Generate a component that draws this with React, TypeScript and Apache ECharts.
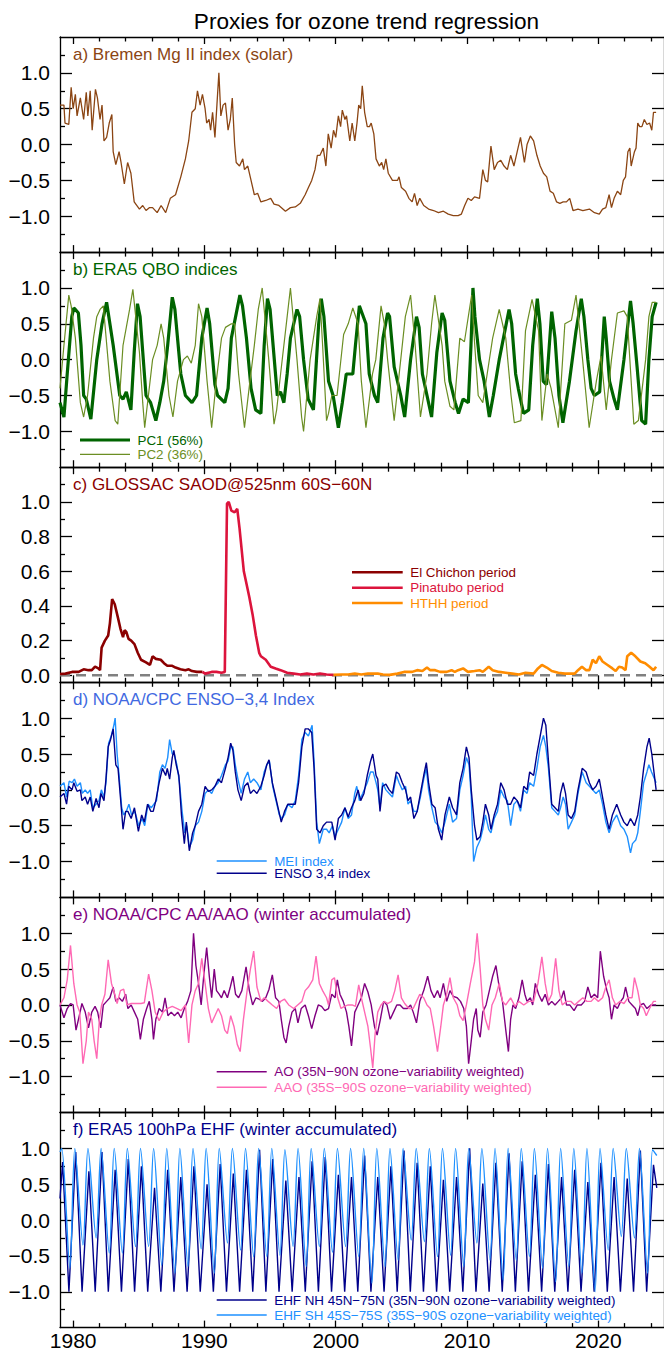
import React, { useEffect, useRef } from 'react';
import * as echarts from 'echarts';

// ---------------- axis ticks / labels ----------------
const decadeTicks = [1980, 1990, 2000, 2010, 2020];
const biennialTicks = [1982, 1984, 1986, 1988, 1992, 1994, 1996, 1998, 2002, 2004, 2006, 2008, 2012, 2014, 2016, 2018, 2022, 2024];
const indexMajorTicks = [-1, -0.5, 0, 0.5, 1];
const indexMinorTicks = [-1.25, -0.75, -0.25, 0.25, 0.75, 1.25];
const aodMajorTicks = [0, 0.2, 0.4, 0.6, 0.8, 1.0];
const aodMinorTicks = [0.1, 0.3, 0.5, 0.7, 0.9, 1.1];

// ---------------- a) solar Mg II ----------------
const solarMgII = [[1979.0,0.55],[1979.3,0.55],[1979.38,0.3],[1979.67,0.28],[1979.85,0.8],[1980.0,0.5],[1980.17,0.7],[1980.3,0.4],[1980.55,0.65],[1980.8,0.35],[1981.0,0.73],[1981.12,0.4],[1981.3,0.75],[1981.45,0.2],[1981.7,0.77],[1981.85,0.65],[1982.05,0.35],[1982.2,0.55],[1982.35,0.05],[1982.55,0.1],[1982.75,0.3],[1982.95,0.42],[1983.05,-0.1],[1983.25,-0.28],[1983.5,-0.1],[1983.65,-0.25],[1983.9,-0.55],[1984.15,-0.25],[1984.4,-0.4],[1984.65,-0.8],[1985.05,-0.9],[1985.3,-0.85],[1985.55,-0.92],[1985.8,-0.88],[1986.05,-0.88],[1986.4,-0.95],[1986.7,-0.85],[1987.05,-0.95],[1987.4,-0.75],[1987.8,-0.7],[1988.2,-0.45],[1988.55,-0.2],[1988.8,0.05],[1989.05,0.45],[1989.3,0.5],[1989.47,0.75],[1989.67,0.55],[1989.85,0.7],[1990.05,0.5],[1990.17,0.3],[1990.35,0.35],[1990.47,0.2],[1990.62,0.45],[1990.8,0.1],[1990.95,0.55],[1991.1,1.0],[1991.25,0.4],[1991.42,0.55],[1991.6,0.58],[1991.8,0.2],[1991.97,0.35],[1992.12,0.65],[1992.3,0.0],[1992.42,-0.25],[1992.67,-0.3],[1992.92,-0.2],[1993.05,-0.35],[1993.3,-0.3],[1993.55,-0.5],[1993.8,-0.7],[1994.05,-0.68],[1994.3,-0.8],[1994.67,-0.78],[1995.05,-0.75],[1995.3,-0.83],[1995.67,-0.85],[1996.17,-0.93],[1996.55,-0.88],[1996.92,-0.87],[1997.3,-0.82],[1997.67,-0.7],[1997.92,-0.6],[1998.17,-0.5],[1998.42,-0.35],[1998.6,-0.15],[1998.8,-0.15],[1999.05,-0.05],[1999.25,-0.3],[1999.43,0.15],[1999.65,-0.05],[1999.83,0.2],[2000.0,0.1],[2000.2,0.4],[2000.37,0.25],[2000.5,0.48],[2000.7,0.35],[2000.82,0.4],[2001.07,0.05],[2001.25,0.3],[2001.45,0.05],[2001.62,0.3],[2001.75,0.55],[2001.9,0.5],[2002.02,0.82],[2002.2,0.45],[2002.4,0.25],[2002.57,0.25],[2002.7,0.3],[2002.9,0.15],[2003.07,-0.2],[2003.32,-0.3],[2003.5,-0.25],[2003.65,-0.35],[2003.82,-0.2],[2004.0,-0.4],[2004.32,-0.5],[2004.7,-0.5],[2004.82,-0.45],[2005.0,-0.6],[2005.32,-0.65],[2005.57,-0.75],[2005.82,-0.8],[2006.0,-0.68],[2006.2,-0.85],[2006.4,-0.75],[2006.7,-0.85],[2007.07,-0.9],[2007.45,-0.92],[2007.82,-0.95],[2008.2,-0.93],[2008.57,-0.97],[2008.95,-0.99],[2009.32,-0.99],[2009.57,-0.97],[2009.82,-0.85],[2010.07,-0.75],[2010.32,-0.78],[2010.57,-0.73],[2010.95,-0.75],[2011.2,-0.35],[2011.4,-0.5],[2011.57,-0.52],[2011.82,-0.02],[2012.07,-0.35],[2012.32,-0.25],[2012.57,-0.22],[2012.82,-0.3],[2013.07,-0.35],[2013.32,-0.15],[2013.57,-0.3],[2013.82,-0.1],[2014.07,0.1],[2014.37,-0.25],[2014.57,0.0],[2014.82,0.12],[2015.07,0.05],[2015.32,-0.15],[2015.57,-0.3],[2015.82,-0.4],[2016.07,-0.45],[2016.32,-0.65],[2016.57,-0.68],[2016.82,-0.8],[2017.07,-0.82],[2017.32,-0.8],[2017.57,-0.8],[2017.82,-0.75],[2018.07,-0.92],[2018.45,-0.9],[2018.82,-0.92],[2019.32,-0.9],[2019.7,-0.95],[2020.07,-0.97],[2020.32,-0.9],[2020.57,-0.88],[2020.82,-0.7],[2021.0,-0.88],[2021.2,-0.75],[2021.45,-0.65],[2021.7,-0.7],[2021.9,-0.5],[2022.07,-0.45],[2022.25,-0.1],[2022.4,-0.05],[2022.5,-0.3],[2022.75,-0.1],[2022.87,-0.05],[2023.0,0.3],[2023.15,0.25],[2023.32,0.25],[2023.5,0.35],[2023.7,0.28],[2023.9,0.3],[2024.07,0.2],[2024.2,0.45],[2024.4,0.45]];

// ---------------- b) QBO ----------------
const qboPC1 = [[1979.0,-0.6],[1979.3,-0.8],[1979.55,-0.2],[1979.9,0.6],[1980.05,0.72],[1980.17,0.7],[1980.4,0.65],[1980.6,0.2],[1980.8,-0.5],[1981.0,-0.55],[1981.35,-0.83],[1981.8,0.0],[1982.2,0.5],[1982.55,0.8],[1983.05,0.2],[1983.55,-0.5],[1983.8,-0.55],[1984.05,-0.45],[1984.4,-0.7],[1984.65,0.1],[1984.9,0.78],[1985.1,0.6],[1985.55,-0.5],[1985.9,-0.6],[1986.3,-0.85],[1986.6,-0.6],[1986.9,-0.3],[1987.2,0.2],[1987.55,0.87],[1987.75,0.7],[1988.2,-0.2],[1988.55,-0.5],[1989.05,-0.6],[1989.4,-0.5],[1989.8,0.3],[1990.2,0.72],[1990.4,0.5],[1990.8,-0.35],[1991.0,-0.5],[1991.55,-0.6],[1991.8,-0.4],[1992.05,0.3],[1992.7,0.9],[1992.9,0.75],[1993.2,0.3],[1993.55,-0.4],[1993.9,-0.7],[1994.3,-0.75],[1994.55,0.2],[1994.8,0.85],[1995.0,0.7],[1995.55,-0.5],[1995.8,-0.45],[1996.05,-0.6],[1996.3,-0.2],[1996.55,0.3],[1997.05,0.7],[1997.25,0.6],[1997.55,0.0],[1997.9,-0.55],[1998.3,-0.7],[1998.7,0.5],[1998.9,0.85],[1999.1,0.6],[1999.45,-0.3],[1999.8,-0.5],[2000.2,-0.95],[2000.5,-0.6],[2000.8,-0.2],[2001.3,-0.2],[2001.5,0.2],[2001.8,0.75],[2002.0,0.65],[2002.3,0.5],[2002.55,-0.2],[2002.95,-0.5],[2003.2,-0.6],[2003.6,0.3],[2003.95,0.65],[2004.1,0.6],[2004.45,-0.1],[2004.95,-0.5],[2005.25,-0.8],[2005.7,0.0],[2006.15,0.6],[2006.35,0.45],[2006.6,-0.2],[2006.95,-0.5],[2007.3,-0.8],[2007.7,0.1],[2008.1,0.65],[2008.3,0.55],[2008.7,-0.3],[2009.1,-0.6],[2009.35,-0.75],[2009.7,-0.55],[2010.1,-0.6],[2010.3,0.2],[2010.45,1.0],[2010.6,0.6],[2010.95,0.0],[2011.3,-0.3],[2011.7,-0.8],[2012.0,-0.5],[2012.45,0.0],[2013.2,0.7],[2013.4,0.5],[2013.7,-0.2],[2013.9,-0.4],[2014.3,-0.75],[2014.7,-0.7],[2015.0,0.2],[2015.35,0.85],[2015.55,0.5],[2015.8,-0.3],[2016.05,-0.35],[2016.45,0.67],[2016.7,0.3],[2017.0,-0.5],[2017.3,-0.88],[2017.8,-0.3],[2018.3,0.4],[2018.7,0.85],[2018.9,0.6],[2019.2,0.0],[2019.45,-0.4],[2019.7,-0.5],[2020.1,-0.45],[2020.45,0.6],[2020.6,0.3],[2020.85,-0.3],[2021.2,-0.55],[2021.45,-0.7],[2021.95,0.0],[2022.45,0.82],[2022.65,0.5],[2022.95,-0.1],[2023.3,-0.85],[2023.6,-0.9],[2023.85,0.0],[2024.1,0.6],[2024.4,0.8]];
const qboPC2 = [[1979.0,-0.4],[1979.3,0.2],[1979.67,0.9],[1979.85,0.75],[1980.17,0.3],[1980.55,-0.6],[1980.8,-0.8],[1981.1,-0.5],[1981.55,0.3],[1981.8,0.6],[1982.05,0.7],[1982.3,0.75],[1982.8,-0.3],[1983.2,-0.85],[1983.4,-0.9],[1983.8,0.2],[1984.05,0.45],[1984.3,0.7],[1984.55,0.98],[1985.05,0.1],[1985.3,-0.6],[1985.45,-0.95],[1986.05,0.0],[1986.4,0.2],[1986.7,0.5],[1986.9,0.3],[1987.3,-0.5],[1987.6,-0.8],[1987.95,-0.3],[1988.4,0.0],[1988.7,0.05],[1989.0,-0.05],[1989.3,0.2],[1989.55,0.78],[1989.8,0.6],[1990.2,-0.3],[1990.55,-0.95],[1990.9,-0.3],[1991.3,0.3],[1991.6,0.45],[1992.05,0.5],[1992.3,0.5],[1992.6,-0.2],[1993.05,-0.95],[1993.4,-0.4],[1993.8,0.2],[1994.1,0.7],[1994.4,1.0],[1994.6,0.6],[1994.9,0.0],[1995.3,-0.9],[1995.5,-0.7],[1995.8,-0.2],[1996.3,0.6],[1996.55,1.0],[1996.8,0.5],[1997.05,0.0],[1997.4,-0.8],[1997.55,-1.0],[1998.05,0.0],[1998.55,0.6],[1998.8,0.85],[1999.0,0.2],[1999.3,-0.85],[1999.45,-0.75],[1999.7,-0.5],[2000.1,-0.5],[2000.6,0.35],[2000.95,0.5],[2001.3,0.72],[2001.7,0.5],[2001.95,-0.3],[2002.3,-0.95],[2002.8,-0.2],[2003.05,0.0],[2003.45,0.75],[2003.7,0.5],[2003.95,0.0],[2004.45,-0.85],[2004.95,0.0],[2005.3,0.6],[2005.7,0.9],[2006.05,0.2],[2006.45,-0.8],[2006.95,-0.2],[2007.3,0.5],[2007.55,0.9],[2008.1,0.2],[2008.3,-0.3],[2008.7,-0.65],[2009.0,-0.7],[2009.45,0.3],[2009.8,0.25],[2010.35,0.9],[2010.55,0.3],[2010.85,-0.5],[2011.2,-0.6],[2011.45,-0.3],[2011.95,0.3],[2012.45,0.7],[2012.95,0.3],[2013.35,-0.5],[2013.6,-0.88],[2014.1,-0.85],[2014.45,0.4],[2014.95,0.84],[2015.45,0.4],[2015.7,-0.85],[2016.1,-0.2],[2016.4,-0.4],[2016.7,-0.7],[2016.95,-0.95],[2017.45,0.5],[2017.95,0.55],[2018.3,0.9],[2018.8,0.0],[2019.3,-0.95],[2019.85,-0.3],[2020.2,0.05],[2020.6,-0.7],[2021.0,0.0],[2021.45,0.65],[2021.95,0.68],[2022.2,0.6],[2022.7,-0.9],[2023.05,-0.85],[2023.6,0.0],[2023.85,0.6],[2024.1,0.8],[2024.4,0.8]];

// ---------------- c) GLOSSAC SAOD ----------------
const saodElChichon = [[1979.0,0.008],[1979.42,0.01],[1979.92,0.02],[1980.42,0.02],[1980.8,0.035],[1981.17,0.03],[1981.42,0.03],[1981.67,0.05],[1981.92,0.04],[1982.05,0.03],[1982.17,0.16],[1982.42,0.2],[1982.67,0.23],[1982.8,0.3],[1982.97,0.44],[1983.17,0.41],[1983.42,0.33],[1983.6,0.27],[1983.8,0.22],[1983.92,0.26],[1984.05,0.25],[1984.22,0.21],[1984.42,0.2],[1984.67,0.18],[1984.92,0.13],[1985.17,0.09],[1985.55,0.075],[1985.85,0.06],[1986.05,0.11],[1986.3,0.095],[1986.67,0.09],[1986.92,0.07],[1987.17,0.055],[1987.55,0.055],[1987.8,0.045],[1988.17,0.035],[1988.55,0.03],[1988.8,0.035],[1989.05,0.025],[1989.42,0.02],[1989.85,0.02]];
const saodPinatubo = [[1989.85,0.02],[1990.05,0.01],[1990.55,0.02],[1990.92,0.02],[1991.3,0.015],[1991.55,0.02],[1991.72,0.99],[1991.85,1.0],[1992.05,0.95],[1992.3,0.94],[1992.5,0.96],[1992.67,0.85],[1993.0,0.6],[1993.17,0.54],[1993.42,0.45],[1993.67,0.35],[1993.92,0.23],[1994.17,0.13],[1994.3,0.11],[1994.67,0.09],[1995.05,0.05],[1995.42,0.04],[1995.8,0.03],[1996.3,0.015],[1996.8,0.01],[1997.3,0.005],[1997.8,0.01],[1998.3,0.005],[1998.8,0.01],[1999.3,0.005],[1999.83,0.003]];
const saodHTHH = [[1999.83,0.003],[2000.45,0.005],[2000.95,0.005],[2001.45,0.01],[2001.95,0.005],[2002.45,0.01],[2003.2,0.01],[2003.6,0.005],[2004.1,0.003],[2004.7,0.01],[2005.2,0.02],[2005.82,0.02],[2006.2,0.03],[2006.6,0.025],[2006.95,0.045],[2007.2,0.03],[2007.57,0.03],[2007.95,0.02],[2008.45,0.02],[2008.82,0.03],[2009.07,0.02],[2009.32,0.03],[2009.7,0.04],[2010.07,0.02],[2010.57,0.025],[2010.95,0.03],[2011.2,0.02],[2011.65,0.05],[2011.95,0.03],[2012.45,0.02],[2012.95,0.015],[2013.45,0.01],[2013.95,0.005],[2014.45,0.015],[2015.07,0.01],[2015.4,0.04],[2015.7,0.06],[2016.07,0.045],[2016.45,0.025],[2016.95,0.015],[2017.45,0.01],[2017.95,0.01],[2018.2,0.01],[2018.45,0.03],[2018.75,0.05],[2019.07,0.03],[2019.32,0.03],[2019.57,0.09],[2019.82,0.07],[2020.07,0.11],[2020.32,0.08],[2020.7,0.06],[2021.07,0.04],[2021.32,0.025],[2021.57,0.05],[2021.82,0.045],[2022.07,0.03],[2022.2,0.11],[2022.5,0.13],[2022.82,0.11],[2023.2,0.08],[2023.57,0.07],[2023.9,0.05],[2024.2,0.03],[2024.4,0.05]];
const saodZeroLine = [[1979.0,0],[2025.0,0]];

// ---------------- d) ENSO ----------------
const meiIndex = [[1979.0,0.05],[1979.3,0.1],[1979.5,-0.1],[1979.7,0.12],[1979.92,0.1],[1980.1,0.15],[1980.3,0.05],[1980.55,0.1],[1980.7,-0.05],[1980.92,0.0],[1981.1,-0.05],[1981.3,0.0],[1981.5,-0.25],[1981.75,-0.2],[1981.97,-0.15],[1982.15,0.0],[1982.35,-0.1],[1982.5,0.1],[1982.7,0.65],[1982.9,0.75],[1983.1,0.9],[1983.2,1.0],[1983.35,0.5],[1983.5,0.2],[1983.7,-0.25],[1983.85,-0.35],[1984.05,-0.3],[1984.25,-0.2],[1984.45,-0.35],[1984.7,-0.3],[1985.0,-0.5],[1985.25,-0.4],[1985.45,-0.5],[1985.7,-0.2],[1985.95,-0.25],[1986.15,-0.2],[1986.35,-0.15],[1986.6,0.25],[1986.8,0.35],[1987.0,0.3],[1987.2,0.45],[1987.35,0.7],[1987.55,0.5],[1987.7,0.5],[1987.9,0.35],[1988.1,0.1],[1988.3,-0.3],[1988.5,-0.6],[1988.65,-0.5],[1988.85,-0.8],[1989.1,-0.7],[1989.3,-0.5],[1989.55,-0.45],[1989.8,-0.3],[1990.05,-0.05],[1990.3,0.0],[1990.55,-0.05],[1990.8,0.05],[1991.05,0.1],[1991.3,0.2],[1991.6,0.35],[1991.8,0.4],[1992.0,0.6],[1992.17,0.6],[1992.35,0.35],[1992.55,0.15],[1992.8,-0.05],[1993.05,0.15],[1993.3,0.25],[1993.5,0.1],[1993.75,0.15],[1994.0,0.1],[1994.3,0.0],[1994.55,0.25],[1994.75,0.35],[1994.95,0.4],[1995.2,0.05],[1995.45,-0.15],[1995.7,-0.35],[1995.9,-0.4],[1996.1,-0.35],[1996.35,-0.2],[1996.67,-0.25],[1996.92,-0.15],[1997.17,0.2],[1997.42,0.7],[1997.67,0.8],[1997.92,0.75],[1998.2,0.9],[1998.35,0.4],[1998.55,-0.45],[1998.75,-0.75],[1999.05,-0.55],[1999.3,-0.55],[1999.5,-0.6],[1999.75,-0.5],[1999.95,-0.65],[2000.2,-0.55],[2000.45,-0.45],[2000.7,-0.25],[2000.95,-0.4],[2001.2,-0.35],[2001.45,-0.05],[2001.6,0.05],[2001.8,-0.15],[2002.05,-0.05],[2002.4,0.1],[2002.65,0.25],[2002.85,0.25],[2003.07,0.1],[2003.2,0.0],[2003.37,-0.25],[2003.57,0.1],[2003.82,0.0],[2004.07,-0.05],[2004.32,-0.1],[2004.62,0.2],[2004.82,0.1],[2005.07,0.0],[2005.32,0.05],[2005.5,-0.2],[2005.7,-0.15],[2005.95,-0.3],[2006.2,-0.3],[2006.45,-0.1],[2006.7,0.15],[2006.9,0.3],[2007.07,0.0],[2007.32,-0.25],[2007.57,-0.45],[2007.82,-0.5],[2008.07,-0.6],[2008.32,-0.45],[2008.65,-0.2],[2008.9,-0.45],[2009.2,-0.4],[2009.45,0.0],[2009.7,0.2],[2009.95,0.45],[2010.15,0.35],[2010.32,-0.1],[2010.5,-1.0],[2010.75,-0.8],[2011.0,-0.7],[2011.2,-0.55],[2011.4,-0.35],[2011.65,-0.55],[2011.82,-0.6],[2012.07,-0.4],[2012.32,-0.3],[2012.57,0.0],[2012.82,-0.1],[2013.07,-0.15],[2013.32,-0.5],[2013.57,-0.2],[2013.82,-0.15],[2014.07,-0.3],[2014.32,0.0],[2014.57,-0.05],[2014.77,0.1],[2015.07,0.05],[2015.32,0.3],[2015.57,0.6],[2015.82,0.76],[2016.0,0.6],[2016.2,0.3],[2016.45,-0.25],[2016.7,-0.3],[2016.95,-0.35],[2017.12,-0.25],[2017.32,-0.1],[2017.5,-0.2],[2017.7,-0.55],[2017.95,-0.45],[2018.2,-0.35],[2018.45,-0.05],[2018.77,0.25],[2019.07,0.1],[2019.32,0.05],[2019.57,0.0],[2019.82,-0.05],[2020.07,0.0],[2020.32,-0.2],[2020.57,-0.45],[2020.82,-0.6],[2021.07,-0.45],[2021.4,-0.35],[2021.7,-0.5],[2021.95,-0.55],[2022.2,-0.65],[2022.45,-0.88],[2022.6,-0.75],[2022.85,-0.7],[2023.0,-0.6],[2023.2,-0.3],[2023.45,0.1],[2023.7,0.25],[2023.85,0.35],[2024.05,0.25],[2024.4,0.1]];
const enso34Index = [[1979.0,-0.1],[1979.3,-0.05],[1979.5,-0.2],[1979.67,0.05],[1979.92,0.0],[1980.05,0.1],[1980.3,-0.02],[1980.55,0.0],[1980.67,-0.15],[1980.92,-0.1],[1981.1,-0.2],[1981.3,-0.1],[1981.5,-0.3],[1981.75,-0.12],[1981.97,-0.25],[1982.12,-0.05],[1982.35,-0.15],[1982.5,0.15],[1982.67,0.6],[1982.85,0.7],[1983.05,0.85],[1983.25,0.35],[1983.42,0.3],[1983.6,-0.1],[1983.8,-0.55],[1984.0,-0.3],[1984.17,-0.3],[1984.42,-0.4],[1984.67,-0.25],[1984.97,-0.58],[1985.22,-0.35],[1985.42,-0.45],[1985.67,-0.2],[1985.92,-0.3],[1986.1,-0.3],[1986.3,-0.15],[1986.55,0.1],[1986.8,0.3],[1987.05,0.2],[1987.17,0.3],[1987.35,0.15],[1987.55,0.45],[1987.67,0.55],[1987.85,0.35],[1988.05,0.2],[1988.25,-0.35],[1988.47,-0.75],[1988.62,-0.45],[1988.85,-0.85],[1989.1,-0.6],[1989.3,-0.5],[1989.55,-0.3],[1989.8,-0.2],[1990.05,0.05],[1990.3,-0.02],[1990.55,0.0],[1990.8,0.05],[1991.05,0.15],[1991.3,0.1],[1991.6,0.3],[1991.8,0.45],[1992.0,0.65],[1992.17,0.55],[1992.35,0.25],[1992.55,0.0],[1992.8,-0.15],[1993.05,0.05],[1993.3,0.1],[1993.5,-0.05],[1993.75,0.0],[1994.0,-0.05],[1994.3,0.05],[1994.55,0.2],[1994.75,0.35],[1994.92,0.42],[1995.17,0.1],[1995.42,-0.1],[1995.67,-0.3],[1995.85,-0.45],[1996.1,-0.3],[1996.35,-0.2],[1996.67,-0.2],[1996.92,-0.2],[1997.17,0.1],[1997.42,0.6],[1997.67,0.85],[1997.92,0.85],[1998.17,0.8],[1998.35,0.3],[1998.55,-0.55],[1998.8,-0.6],[1999.05,-0.5],[1999.3,-0.45],[1999.45,-0.45],[1999.7,-0.45],[1999.95,-0.7],[2000.2,-0.4],[2000.45,-0.35],[2000.7,-0.25],[2000.95,-0.38],[2001.2,-0.25],[2001.45,-0.15],[2001.7,0.0],[2001.9,-0.15],[2002.15,-0.05],[2002.4,0.2],[2002.65,0.4],[2002.82,0.5],[2003.07,0.2],[2003.2,0.15],[2003.37,-0.3],[2003.57,0.05],[2003.82,0.08],[2004.07,0.0],[2004.32,-0.05],[2004.62,0.25],[2004.82,0.22],[2005.07,0.1],[2005.32,0.0],[2005.5,-0.15],[2005.7,-0.1],[2005.95,-0.4],[2006.2,-0.3],[2006.45,-0.05],[2006.7,0.2],[2006.9,0.38],[2007.07,0.1],[2007.32,-0.2],[2007.57,-0.25],[2007.82,-0.55],[2008.07,-0.7],[2008.32,-0.35],[2008.65,-0.1],[2008.9,-0.25],[2009.2,-0.35],[2009.45,0.1],[2009.7,0.3],[2009.95,0.6],[2010.15,0.45],[2010.32,0.0],[2010.57,-0.5],[2010.75,-0.7],[2011.0,-0.65],[2011.2,-0.45],[2011.4,-0.2],[2011.65,-0.35],[2011.82,-0.55],[2012.07,-0.35],[2012.32,-0.2],[2012.57,0.1],[2012.82,0.0],[2013.07,-0.2],[2013.32,-0.2],[2013.57,-0.1],[2013.82,-0.15],[2014.07,-0.25],[2014.32,0.05],[2014.57,0.0],[2014.77,0.25],[2015.07,0.2],[2015.32,0.5],[2015.57,0.75],[2015.82,1.0],[2016.0,0.9],[2016.2,0.4],[2016.45,-0.2],[2016.7,-0.25],[2016.95,-0.3],[2017.12,-0.05],[2017.32,0.1],[2017.5,-0.05],[2017.7,-0.35],[2017.95,-0.4],[2018.2,-0.3],[2018.45,0.0],[2018.77,0.3],[2019.07,0.25],[2019.32,0.1],[2019.57,0.0],[2019.82,0.05],[2020.07,0.15],[2020.32,-0.1],[2020.57,-0.35],[2020.82,-0.55],[2021.07,-0.35],[2021.4,-0.2],[2021.7,-0.35],[2021.95,-0.45],[2022.2,-0.5],[2022.45,-0.4],[2022.75,-0.5],[2023.0,-0.35],[2023.2,-0.1],[2023.45,0.3],[2023.7,0.6],[2023.87,0.72],[2024.07,0.5],[2024.4,0.0]];

// ---------------- e) AO / AAO ----------------
const aoIndex = [[1979.0,0.0],[1979.3,-0.18],[1979.55,-0.05],[1979.8,0.02],[1980.0,0.0],[1980.22,-0.35],[1980.47,-0.15],[1980.67,0.02],[1980.92,-0.1],[1981.17,-0.32],[1981.42,-0.1],[1981.67,-0.02],[1981.87,-0.1],[1982.1,-0.32],[1982.3,0.0],[1982.55,0.05],[1982.8,0.1],[1983.05,0.25],[1983.25,0.05],[1983.5,0.1],[1983.75,0.05],[1984.0,0.15],[1984.17,-0.05],[1984.42,0.0],[1984.67,-0.1],[1984.92,-0.2],[1985.12,-0.48],[1985.35,-0.2],[1985.6,-0.05],[1985.8,0.05],[1986.0,-0.2],[1986.12,-0.48],[1986.3,-0.2],[1986.55,-0.05],[1986.8,-0.1],[1987.0,0.1],[1987.22,-0.15],[1987.47,-0.1],[1987.72,-0.15],[1987.97,-0.1],[1988.22,-0.18],[1988.47,-0.05],[1988.72,0.05],[1988.97,0.2],[1989.17,1.0],[1989.35,0.55],[1989.55,0.3],[1989.75,0.0],[1989.97,0.45],[1990.17,0.8],[1990.37,0.4],[1990.55,0.1],[1990.75,0.5],[1990.92,0.2],[1991.12,0.15],[1991.3,0.1],[1991.5,0.2],[1991.75,0.1],[1991.97,0.25],[1992.17,0.4],[1992.37,0.15],[1992.6,0.1],[1992.85,0.2],[1993.17,0.53],[1993.42,0.2],[1993.67,0.0],[1993.92,0.1],[1994.17,0.08],[1994.42,0.05],[1994.67,0.1],[1994.92,0.22],[1995.17,0.42],[1995.42,0.1],[1995.67,0.05],[1995.85,-0.2],[1996.05,-0.45],[1996.22,-0.53],[1996.42,-0.3],[1996.67,-0.1],[1996.92,-0.05],[1997.12,-0.25],[1997.37,-0.05],[1997.67,0.0],[1997.92,-0.15],[1998.17,-0.33],[1998.42,-0.15],[1998.67,0.0],[1998.92,-0.02],[1999.17,-0.08],[1999.45,-0.05],[1999.7,0.15],[1999.95,0.1],[2000.12,0.35],[2000.32,0.15],[2000.57,0.05],[2000.82,-0.1],[2001.0,-0.3],[2001.2,-0.57],[2001.45,-0.1],[2001.7,0.0],[2001.95,0.1],[2002.2,0.3],[2002.45,0.18],[2002.7,0.0],[2002.95,-0.3],[2003.15,-0.42],[2003.4,-0.2],[2003.65,0.05],[2003.9,0.0],[2004.15,-0.2],[2004.4,-0.1],[2004.65,0.0],[2004.9,0.0],[2005.15,-0.05],[2005.45,-0.05],[2005.7,0.0],[2005.9,-0.1],[2006.15,-0.25],[2006.4,0.05],[2006.7,0.2],[2007.0,0.4],[2007.25,0.2],[2007.5,0.1],[2007.75,0.2],[2007.95,0.1],[2008.2,0.3],[2008.45,0.05],[2008.7,0.2],[2008.95,0.12],[2009.25,0.1],[2009.5,0.05],[2009.75,-0.05],[2009.95,-0.3],[2010.12,-0.82],[2010.32,-0.5],[2010.5,-0.2],[2010.7,-0.05],[2010.82,-0.35],[2011.0,-0.45],[2011.2,-0.1],[2011.45,0.0],[2011.7,0.2],[2011.95,0.4],[2012.2,0.55],[2012.45,0.25],[2012.7,0.05],[2012.95,-0.35],[2013.15,-0.65],[2013.32,-0.2],[2013.5,0.0],[2013.7,-0.05],[2013.95,0.1],[2014.2,0.35],[2014.4,0.15],[2014.57,0.05],[2014.82,0.1],[2015.0,0.0],[2015.2,0.3],[2015.45,0.15],[2015.7,0.05],[2015.95,0.15],[2016.2,0.0],[2016.45,0.05],[2016.7,0.0],[2016.95,0.05],[2017.2,0.1],[2017.37,0.2],[2017.57,0.0],[2017.82,0.0],[2018.15,-0.08],[2018.4,0.0],[2018.7,0.0],[2018.95,0.05],[2019.2,0.25],[2019.45,0.1],[2019.7,0.15],[2019.95,0.1],[2020.15,0.75],[2020.4,0.4],[2020.65,0.2],[2020.82,0.1],[2021.0,-0.2],[2021.2,0.0],[2021.45,-0.05],[2021.7,0.05],[2021.9,0.1],[2022.07,0.25],[2022.32,0.05],[2022.57,0.0],[2022.82,-0.05],[2023.0,-0.15],[2023.2,0.0],[2023.45,0.02],[2023.7,-0.05],[2024.0,0.0],[2024.4,0.0]];
const aaoIndex = [[1979.0,0.0],[1979.3,0.1],[1979.55,0.35],[1979.8,0.83],[1980.05,0.3],[1980.3,0.0],[1980.5,-0.1],[1980.75,-0.82],[1981.0,-0.5],[1981.17,-0.1],[1981.42,-0.2],[1981.6,-0.5],[1981.8,-0.75],[1982.0,-0.2],[1982.17,0.0],[1982.42,0.15],[1982.67,0.63],[1982.92,0.3],[1983.17,0.15],[1983.35,0.02],[1983.6,0.2],[1983.85,0.22],[1984.1,0.0],[1984.42,0.02],[1984.8,0.02],[1985.17,0.02],[1985.42,0.03],[1985.75,0.43],[1986.0,0.2],[1986.25,-0.1],[1986.55,-0.22],[1986.85,-0.1],[1987.17,-0.05],[1987.55,-0.02],[1987.92,-0.05],[1988.22,-0.08],[1988.55,0.0],[1988.8,-0.53],[1989.05,0.0],[1989.3,0.2],[1989.55,0.3],[1989.8,0.65],[1990.05,0.3],[1990.3,-0.05],[1990.55,-0.25],[1990.8,-0.15],[1991.05,-0.05],[1991.3,-0.15],[1991.55,-0.35],[1991.75,-0.4],[1992.0,-0.15],[1992.25,-0.3],[1992.5,-0.55],[1992.72,-0.65],[1992.97,-0.2],[1993.25,0.2],[1993.5,0.5],[1993.75,0.75],[1994.0,0.25],[1994.3,0.05],[1994.55,0.1],[1994.85,0.05],[1995.17,0.0],[1995.5,-0.05],[1995.8,0.05],[1996.1,0.08],[1996.42,0.0],[1996.8,-0.05],[1997.1,0.0],[1997.42,0.05],[1997.67,0.2],[1997.92,0.25],[1998.25,0.35],[1998.5,0.68],[1998.75,0.3],[1999.0,0.2],[1999.3,0.1],[1999.45,0.0],[1999.7,0.35],[1999.9,0.38],[2000.15,0.1],[2000.4,-0.05],[2000.65,-0.02],[2000.95,0.0],[2001.25,0.0],[2001.5,-0.02],[2001.75,0.28],[2001.95,0.1],[2002.2,-0.1],[2002.45,-0.3],[2002.65,-0.6],[2002.82,-0.88],[2003.0,-0.4],[2003.2,-0.1],[2003.45,0.0],[2003.7,0.05],[2003.95,0.02],[2004.25,0.05],[2004.5,0.2],[2004.75,0.42],[2005.0,0.1],[2005.25,0.02],[2005.57,-0.05],[2005.9,-0.05],[2006.15,0.05],[2006.4,0.15],[2006.7,0.1],[2006.95,0.0],[2007.2,-0.05],[2007.45,-0.3],[2007.75,-0.65],[2008.0,-0.3],[2008.2,0.0],[2008.45,0.15],[2008.7,0.38],[2008.95,0.1],[2009.25,0.0],[2009.45,-0.15],[2009.7,-0.22],[2009.95,0.0],[2010.25,0.3],[2010.57,0.6],[2010.77,1.0],[2011.0,0.5],[2011.2,0.0],[2011.4,-0.2],[2011.65,-0.35],[2011.9,0.0],[2012.15,0.1],[2012.45,0.3],[2012.7,0.05],[2012.95,0.0],[2013.32,0.1],[2013.65,-0.02],[2013.95,0.05],[2014.32,0.0],[2014.7,0.05],[2015.07,0.05],[2015.4,0.3],[2015.7,0.67],[2015.95,0.3],[2016.2,0.05],[2016.45,0.15],[2016.75,0.65],[2017.0,0.2],[2017.25,0.0],[2017.57,0.05],[2017.9,0.05],[2018.2,0.0],[2018.5,0.05],[2018.82,0.1],[2019.12,0.05],[2019.45,0.05],[2019.7,0.1],[2020.0,0.05],[2020.32,0.1],[2020.57,0.25],[2020.82,0.35],[2021.07,0.1],[2021.32,0.0],[2021.65,0.05],[2021.95,0.02],[2022.25,0.1],[2022.57,0.1],[2022.75,0.38],[2023.0,0.2],[2023.2,0.0],[2023.45,-0.05],[2023.65,-0.15],[2023.9,-0.05],[2024.2,0.05],[2024.4,0.05]];

// ---------------- f) EHF (yearly turning points) ----------------
const ehfYears = [1979,1980,1981,1982,1983,1984,1985,1986,1987,1988,1989,1990,1991,1992,1993,1994,1995,1996,1997,1998,1999,2000,2001,2002,2003,2004,2005,2006,2007,2008,2009,2010,2011,2012,2013,2014,2015,2016,2017,2018,2019,2020,2021,2022,2023,2024];
const ehfNhPeaks = [0.81,0.95,0.68,0.95,0.7,0.85,0.75,0.45,0.7,0.6,0.75,0.5,0.78,0.65,0.7,0.98,0.85,0.55,0.6,0.82,0.88,0.63,0.6,0.9,0.6,0.75,0.97,0.8,0.75,0.56,0.6,1.0,0.51,0.8,0.93,0.82,0.63,0.78,0.6,0.7,0.53,0.8,0.6,0.58,0.97,0.77];
const ehfNhTroughs = [-1,-1,-1,-1,-1,-1,-1,-1,-1,-1,-1,-1,-1,-1,-1,-1,-1,-1,-1,-1,-1,-1,-1,-1,-1,-1,-1,-1,-1,-1,-1,-1,-1,-1,-1,-1,-1,-1,-1,-1,-1,-1,-1,-1,-1];
const ehfShPeaks = [1,1,1,1,1,1,1,1,1,1,1,1,1,1,1,1,1,0.98,1,1,1,1,1,1,1,1,1,1,1,1,1,1,1,1,1,1,1,1,1,1,1,1,1,1,1,0.98];
const ehfShTroughs = [-0.67,-0.35,-0.25,-0.46,-0.46,-0.37,-0.37,-0.63,-0.74,-0.65,-0.4,-0.74,-0.32,-0.42,-0.51,-0.51,-0.49,-0.37,-0.65,-0.37,-0.45,-0.37,-0.51,-0.88,-0.65,-0.56,-0.28,-0.3,-0.51,-0.49,-0.65,-0.32,-0.56,-0.84,-0.56,-0.51,-0.67,-0.86,-0.65,-0.74,-1.0,-0.42,-0.23,-0.25,-0.74];
const ehfNhPhase = { start: [1979.0, 0.3], peak: 0.2, trough: 0.68, end: [2024.45, 0.45] };
const ehfShPhase = { start: [1979.0, 0.95], peak: 0.13, trough: 0.75, end: [2024.45, 0.9] };

function ehfTurningPoints(peaks: number[], troughs: number[], ph: any) {
  const out: number[][] = [ph.start];
  ehfYears.forEach((y, k) => {
    out.push([y + ph.peak, peaks[k]]);
    if (k < troughs.length) out.push([y + ph.trough, troughs[k]]);
  });
  out.push(ph.end);
  return out;
}

// ---------------- styling / layout ----------------
const FONT = '"Liberation Sans", Arial, Helvetica, sans-serif';
const PANEL_TOP = 37;
const PANEL_H = 215.1;
const PLOT_LEFT = 60;
const PLOT_W = 613.3;
const AX = { color: '#000', width: 1.3 };

const C = {
  solar: '#8B4513',
  pc1: '#006400',
  pc2: '#6B8E23',
  chichon: '#8B0000',
  pinatubo: '#DC143C',
  hthh: '#FF8C00',
  dash: '#808080',
  dLabel: '#4169E1',
  mei: '#1E90FF',
  enso: '#00008B',
  ao: '#800080',
  aao: '#FF69B4',
  nh: '#00008B',
  sh: '#1E90FF',
};

const fmtY = (v: number) => (v < 0 ? '\u2212' : '') + Math.abs(v).toFixed(1);

function makeXAxes(i: number, last: boolean) {
  const base = { type: 'value', gridIndex: i, min: 1979, max: 2025, splitLine: { show: false } };
  const tick = (len: number, vals: number[]) => ({ show: true, inside: true, length: len, customValues: vals, lineStyle: AX });
  return [
    {
      ...base, position: 'bottom',
      axisLine: { show: true, onZero: false, lineStyle: AX },
      axisTick: tick(7, decadeTicks),
      axisLabel: last
        ? { show: true, customValues: decadeTicks, formatter: (v: number) => String(v), fontSize: 21, color: '#000', fontFamily: FONT, margin: 2 }
        : { show: false },
    },
    { ...base, position: 'bottom', axisLine: { show: false, onZero: false }, axisTick: tick(4.5, biennialTicks), axisLabel: { show: false } },
    { ...base, position: 'top', axisLine: { show: true, onZero: false, lineStyle: AX }, axisTick: tick(7, decadeTicks), axisLabel: { show: false } },
    { ...base, position: 'top', axisLine: { show: false, onZero: false }, axisTick: tick(4.5, biennialTicks), axisLabel: { show: false } },
  ];
}

function makeYAxes(i: number, min: number, max: number, major: number[], minor: number[]) {
  const base = { type: 'value', gridIndex: i, min, max, splitLine: { show: false } };
  const tick = (len: number, vals: number[]) => ({ show: true, inside: true, length: len, customValues: vals, lineStyle: AX });
  return [
    {
      ...base, position: 'left',
      axisLine: { show: true, onZero: false, lineStyle: AX },
      axisTick: tick(12, major),
      axisLabel: { show: true, customValues: major, formatter: fmtY, fontSize: 21, color: '#000', fontFamily: FONT, margin: 10 },
    },
    { ...base, position: 'left', axisLine: { show: false, onZero: false }, axisTick: tick(5, minor), axisLabel: { show: false } },
    { ...base, position: 'right', axisLine: { show: true, onZero: false, lineStyle: AX }, axisTick: tick(12, major), axisLabel: { show: false } },
  ];
}

function lineSeries(i: number, name: string, data: any, color: string, width: number, extra: any = {}) {
  return {
    type: 'line', name, xAxisIndex: 4 * i, yAxisIndex: 3 * i, data,
    showSymbol: false, symbol: 'none', silent: true,
    lineStyle: { color, width, ...(extra.lineStyle || {}) },
    itemStyle: { color },
    emphasis: { disabled: true },
    ...(extra.smooth !== undefined ? { smooth: extra.smooth } : {}),
    z: extra.z ?? 2,
  };
}

function panelTop(i: number) { return PANEL_TOP + PANEL_H * i; }

function label(i: number, text: string, color: string) {
  return { type: 'text', x: 73, y: panelTop(i) + 17, z: 100, style: { text, fill: color, fontSize: 17, fontFamily: FONT, align: 'left', verticalAlign: 'middle' } };
}

function legendRow(x1: number, x2: number, y: number, text: string, color: string, width: number) {
  return [
    { type: 'line', z: 100, shape: { x1, y1: y, x2, y2: y }, style: { stroke: color, lineWidth: width } },
    { type: 'text', z: 100, x: x2 + 7.5, y, style: { text, fill: color, fontSize: 13.4, fontFamily: FONT, align: 'left', verticalAlign: 'middle' } },
  ];
}

function buildOption() {
  const grids = [0, 1, 2, 3, 4, 5].map((i) => ({ left: PLOT_LEFT, top: panelTop(i), width: PLOT_W, height: PANEL_H, containLabel: false }));
  const xAxis: any[] = [];
  const yAxis: any[] = [];
  for (let i = 0; i < 6; i++) {
    xAxis.push(...makeXAxes(i, i === 5));
    if (i === 2) yAxis.push(...makeYAxes(i, -0.04, 1.2, aodMajorTicks, aodMinorTicks));
    else yAxis.push(...makeYAxes(i, -1.5, 1.5, indexMajorTicks, indexMinorTicks));
  }

  const series = [
    lineSeries(0, 'Mg II', solarMgII, C.solar, 1.3),
    lineSeries(1, 'PC1', qboPC1, C.pc1, 3.2),
    lineSeries(1, 'PC2', qboPC2, C.pc2, 1.2, { z: 3 }),
    lineSeries(2, 'zero', saodZeroLine, C.dash, 2.5, { lineStyle: { type: [10, 6] }, z: 1 }),
    lineSeries(2, 'El Chichon', saodElChichon, C.chichon, 2.6),
    lineSeries(2, 'Pinatubo', saodPinatubo, C.pinatubo, 2.6),
    lineSeries(2, 'HTHH', saodHTHH, C.hthh, 2.6),
    lineSeries(3, 'MEI', meiIndex, C.mei, 1.4),
    lineSeries(3, 'ENSO', enso34Index, C.enso, 1.4, { z: 3 }),
    lineSeries(4, 'AO', aoIndex, C.ao, 1.4),
    lineSeries(4, 'AAO', aaoIndex, C.aao, 1.4, { z: 3 }),
    lineSeries(5, 'EHF NH', ehfTurningPoints(ehfNhPeaks, ehfNhTroughs, ehfNhPhase), C.nh, 1.4),
    lineSeries(5, 'EHF SH', ehfTurningPoints(ehfShPeaks, ehfShTroughs, ehfShPhase), C.sh, 1.4, { z: 3, smooth: 0.3 }),
  ];

  const graphic: any[] = [
    { type: 'text', x: 366.5, y: 21, z: 100, style: { text: 'Proxies for ozone trend regression', fill: '#000', fontSize: 22.6, fontFamily: FONT, align: 'center', verticalAlign: 'middle' } },
    label(0, 'a) Bremen Mg II index (solar)', C.solar),
    label(1, 'b) ERA5 QBO indices', C.pc1),
    label(2, 'c) GLOSSAC SAOD@525nm 60S\u221260N', C.chichon),
    label(3, 'd) NOAA/CPC ENSO\u22123,4 Index', C.dLabel),
    label(4, 'e) NOAA/CPC AA/AAO (winter accumulated)', C.ao),
    label(5, 'f) ERA5 100hPa EHF (winter accumulated)', C.nh),
    ...legendRow(80, 130, 440, 'PC1 (56%)', C.pc1, 3.2),
    ...legendRow(80, 130, 454.3, 'PC2 (36%)', C.pc2, 1.3),
    ...legendRow(352, 402.7, 572.3, 'El Chichon period', C.chichon, 2.6),
    ...legendRow(352, 402.7, 587.7, 'Pinatubo period', C.pinatubo, 2.6),
    ...legendRow(352, 402.7, 603, 'HTHH period', C.hthh, 2.6),
    ...legendRow(216.7, 266.7, 861, 'MEI index', C.mei, 1.4),
    ...legendRow(216.7, 266.7, 873.3, 'ENSO 3,4 index', C.enso, 1.4),
    ...legendRow(216.7, 266.7, 1071.7, 'AO (35N\u221290N ozone\u2212variability weighted)', C.ao, 1.4),
    ...legendRow(216.7, 266.7, 1087.3, 'AAO (35S\u221290S ozone\u2212variability weighted)', C.aao, 1.4),
    ...legendRow(216.7, 266.7, 1300, 'EHF NH 45N\u221275N (35N\u221290N ozone\u2212variability weighted)', C.nh, 1.4),
    ...legendRow(216.7, 266.7, 1315, 'EHF SH 45S\u221275S (35S\u221290S ozone\u2212variability weighted)', C.sh, 1.4),
  ];

  return {
    animation: false,
    backgroundColor: '#fff',
    textStyle: { fontFamily: FONT },
    grid: grids,
    xAxis,
    yAxis,
    series,
    graphic,
  };
}

export default function App() {
  const ref = useRef<HTMLDivElement>(null);
  useEffect(() => {
    if (!ref.current) return;
    const chart = echarts.init(ref.current, undefined, { renderer: 'svg' });
    chart.setOption(buildOption() as any);
    return () => chart.dispose();
  }, []);
  return (
    <div
      ref={ref}
      style={{ position: 'absolute', left: 0, top: 0, width: 664, height: 1351, overflow: 'hidden', background: '#fff' }}
    />
  );
}
